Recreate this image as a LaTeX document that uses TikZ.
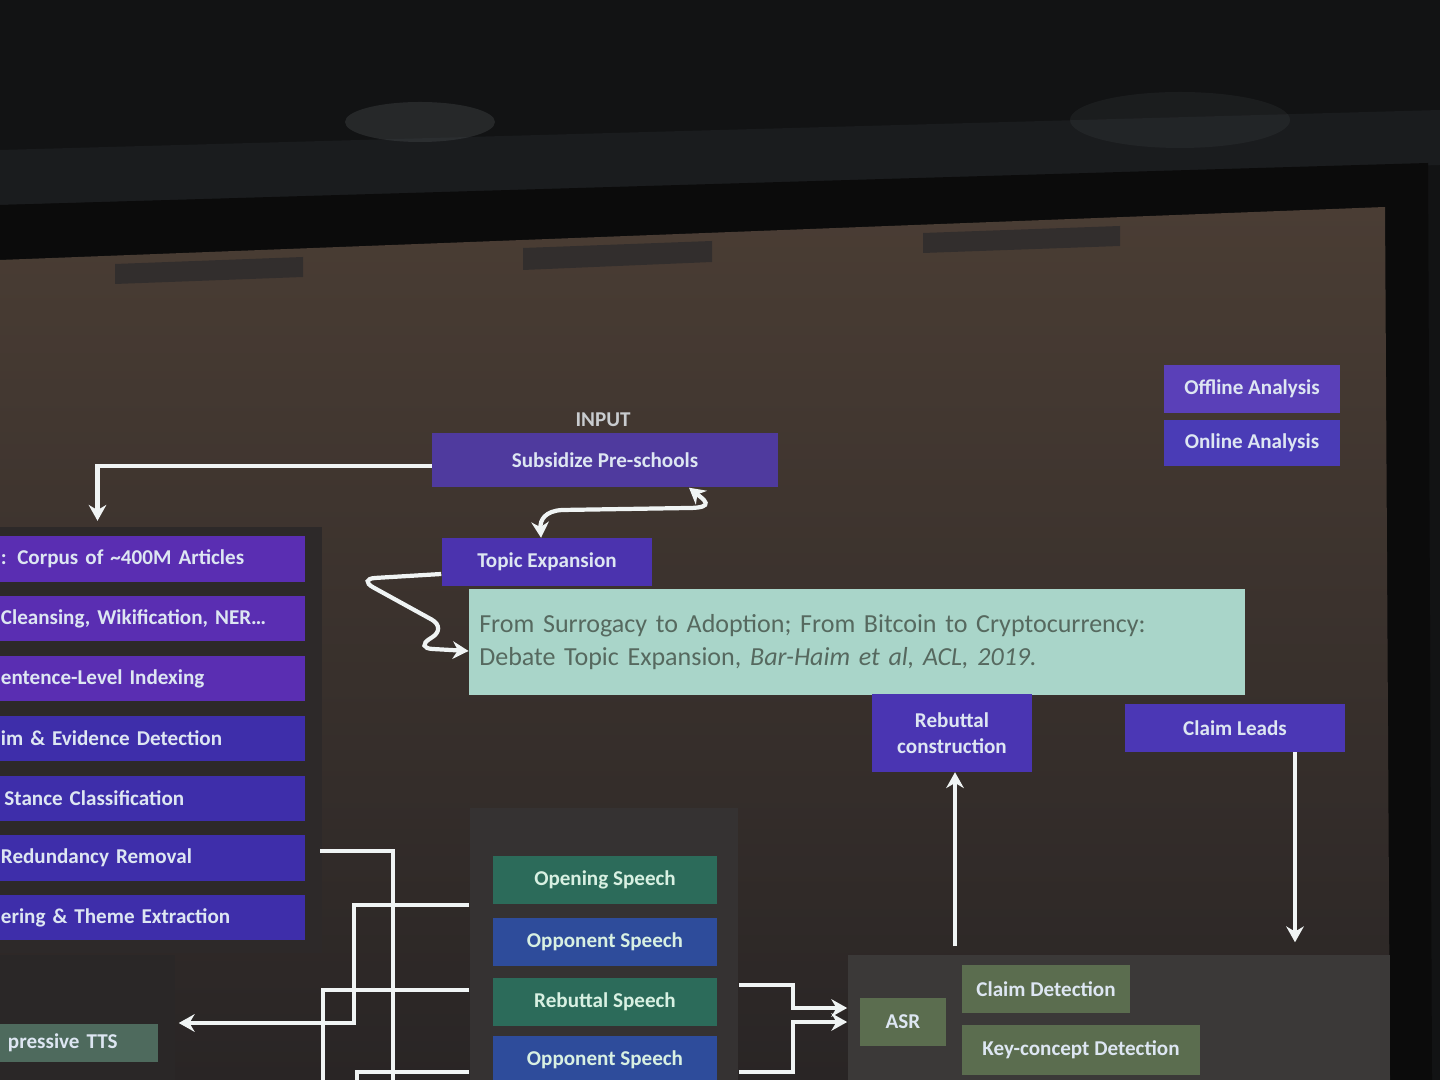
\documentclass[tikz,border=0pt]{standalone}
\usepackage{fontspec}
\setmainfont{Carlito}
\usetikzlibrary{arrows.meta,calc}

\definecolor{ceilC}{HTML}{121314}
\definecolor{beamC}{HTML}{1A1C1E}
\definecolor{lampC}{HTML}{55595C}
\definecolor{frameC}{HTML}{0B0B0B}
\definecolor{scrTop}{HTML}{4A3D34}
\definecolor{scrBot}{HTML}{292525}
\definecolor{notchC}{HTML}{322E2D}
\definecolor{colpanC}{HTML}{2D2929}
\definecolor{debpanC}{HTML}{353232}
\definecolor{asrpanC}{HTML}{3B3938}
\definecolor{ttspanC}{HTML}{2A2727}
\definecolor{violetC}{HTML}{5A2EB2}
\definecolor{indigoC}{HTML}{3E2EAA}
\definecolor{subC}{HTML}{4F3A9E}
\definecolor{topicC}{HTML}{4B33AE}
\definecolor{offC}{HTML}{5A40B8}
\definecolor{onC}{HTML}{4A3CB6}
\definecolor{rebC}{HTML}{4A35B2}
\definecolor{leadC}{HTML}{4B37B5}
\definecolor{speechG}{HTML}{2C6B5A}
\definecolor{speechB}{HTML}{2E4C9B}
\definecolor{oliveC}{HTML}{5B6D4F}
\definecolor{ttsC}{HTML}{4E6A5D}
\definecolor{citeC}{HTML}{A9D5C9}
\definecolor{citeT}{HTML}{56695F}
\definecolor{labelC}{HTML}{DDE6F2}
\definecolor{speechT}{HTML}{D8F0E2}
\definecolor{inputC}{HTML}{C9CCCF}
\definecolor{wireC}{HTML}{F0F4F4}

\begin{document}
\begin{tikzpicture}[x=0.01cm,y=-0.01cm,
	box/.style={rectangle,inner sep=0pt,align=center,text=labelC,
		font=\fontsize{6}{7.4}\selectfont\bfseries},
	panel/.style={rectangle,inner sep=0pt},
	wire/.style={draw=wireC,line width=1.2pt},
	arr/.style={wire,-{Stealth[length=4.5pt,width=5pt]}},
	arrs/.style={wire,{Stealth[length=4.5pt,width=5pt]}-{Stealth[length=4.5pt,width=5pt]}},
	declare function={
		colX = 142.5;
		colY = 559;
		rowH = 59.8;
		spX = 605;
	}
	]
	\useasboundingbox (0,0) rectangle (1440,1080);
	\clip (0,0) rectangle (1440,1080);
	% room, frame and screen
	\fill[ceilC] (0,0) rectangle (1440,1080);
	\fill[beamC] (0,150) -- (1440,110) -- (1440,165) -- (0,205) -- cycle;
	\fill[lampC,opacity=0.3] (420,122) ellipse (75 and 20);
	\fill[lampC,opacity=0.15] (1180,120) ellipse (110 and 28);
	\fill[frameC] (0,205) -- (1428,163) -- (1432,1080) -- (0,1080) -- cycle;
	\shade[top color=scrTop,bottom color=scrBot] (0,260) -- (1385,207) -- (1390,1080) -- (0,1080) -- cycle;
	\fill[notchC] (115,264) -- (303,257) -- (303,277) -- (115,284) -- cycle;
	\fill[notchC] (523,248) -- (712,241) -- (712,262) -- (523,270) -- cycle;
	\fill[notchC] (923,233) -- (1120,226) -- (1120,246) -- (923,253) -- cycle;
	% backdrop panels
	\node[panel,fill=colpanC,minimum width=3.4cm,minimum height=4.25cm] (colpanel) at (152,740) {};
	\node[panel,fill=ttspanC,minimum width=1.85cm,minimum height=1.3cm] (ttspanel) at (82,1020) {};
	\node[panel,fill=debpanC,minimum width=2.68cm,minimum height=2.82cm] (debate) at (604,949) {};
	\node[panel,fill=asrpanC,minimum width=5.42cm,minimum height=1.34cm] (asrpanel) at (1119,1022) {};
	% input and expansion
	\node[font=\fontsize{6}{7}\selectfont\bfseries,text=inputC] (input) at (603,420) {INPUT};
	\node[box,fill=subC,minimum width=3.45cm,minimum height=0.54cm] (sub) at (605,460) {Subsidize Pre-schools};
	\node[box,fill=topicC,minimum width=2.1cm,minimum height=0.47cm] (topic) at (547,562) {Topic Expansion};
	\node[rectangle,inner sep=0pt,fill=citeC,text=citeT,minimum width=7.75cm,minimum height=1.05cm,
		text width=7.55cm,align=left,font=\fontsize{7.4}{9.2}\selectfont] (cite) at (857,642)
		{From Surrogacy to Adoption; From Bitcoin to Cryptocurrency:\\
		 Debate Topic Expansion, \textit{Bar-Haim et al, ACL, 2019.}};
	\node[box,fill=offC,minimum width=1.75cm,minimum height=0.48cm] (offline) at (1252,389) {Offline Analysis};
	\node[box,fill=onC,minimum width=1.75cm,minimum height=0.46cm] (online) at (1252,443) {Online Analysis};
	% offline pipeline
	\foreach \i/\c/\t in {
		1/violetC/{: Corpus of \textasciitilde400M Articles},
		2/violetC/{Cleansing, Wikification, NER…},
		3/violetC/{entence-Level Indexing},
		4/indigoC/{im \& Evidence Detection},
		5/indigoC/{\hspace{1pt}Stance Classification},
		6/indigoC/{Redundancy Removal},
		7/indigoC/{ering \& Theme Extraction}
	}{
		\node[box,fill=\c,minimum width=3.25cm,minimum height=0.45cm,text width=2.83cm,align=left]
			(col\i) at (colX,{colY+(\i-1)*rowH}) {\t};
	}
	\node[box,fill=ttsC,minimum width=1.78cm,minimum height=0.37cm,text width=1.22cm,align=left] (tts) at (69,1043) {pressive TTS};
	% debate speeches
	\foreach \n/\c/\t/\y in {
		opening/speechG/Opening Speech/880,
		opp1/speechB/Opponent Speech/942,
		rebsp/speechG/Rebuttal Speech/1002,
		opp2/speechB/Opponent Speech/1060
	}{
		\node[box,fill=\c,text=speechT,minimum width=2.24cm,minimum height=0.48cm] (\n) at (spX,\y) {\t};
	}
	% online pipeline
	\node[box,fill=oliveC,minimum width=0.86cm,minimum height=0.48cm] (asr) at (903,1022) {ASR};
	\node[box,fill=oliveC,minimum width=1.67cm,minimum height=0.47cm] (claimdet) at (1046,989) {Claim Detection};
	\node[box,fill=oliveC,minimum width=2.37cm,minimum height=0.5cm] (keycon) at (1081,1050) {Key-concept Detection};
	\node[box,fill=rebC,minimum width=1.6cm,minimum height=0.77cm] (rebcon) at (952,733) {Rebuttal\\construction};
	\node[box,fill=leadC,minimum width=2.2cm,minimum height=0.47cm] (leads) at (1235,728) {Claim Leads};
	% connectors
	\draw[arr] ($(sub.west)+(0,6)$) -| ($(col1.north)+(-45,-15)$);
	\draw[arrs] ($(sub.south)+(84,0)$) .. controls (703,499) and (717,508) .. (688,508)
		-- (562,510) .. controls (545,511) and (540,520) .. ($(topic.north)+(-6,0)$);
	\draw[arr,rounded corners=5pt] ($(topic.west)+(0,12)$) -- (358,579) -- (447,628) -- (415,648) -- ($(cite.west)+(0,9)$);
	\draw[arr] ($(asrpanel.north -| rebcon.south)+(3,-8)$) -- ($(rebcon.south)+(3,0)$);
	\draw[arr] ($(leads.south)+(60,0)$) -- ($(leads.south |- asrpanel.north)+(60,-12)$);
	\draw[arr] ($(debate.east)+(0,36)$) -| (793,1008) -- ($(asrpanel.west)+(0,-14)$);
	\draw[arr] ($(debate.east)+(0,123)$) -| (793,1022) -- (asrpanel.west);
	\coordinate (wa) at (320,851);
	\coordinate (wa2) at (393,1090);
	\coordinate (wc2) at (323,1090);
	\coordinate (wd2) at (357,1090);
	\draw[wire] (wa) -| (wa2);
	\draw[arr] ($(debate.west)+(0,-44)$) -| (354,960) |- ($(tts.east)+(20,-20)$);
	\draw[wire] ($(debate.west)+(0,41)$) -| (wc2);
	\draw[wire] ($(debate.west)+(0,123)$) -| (wd2);
\end{tikzpicture}
\end{document}
